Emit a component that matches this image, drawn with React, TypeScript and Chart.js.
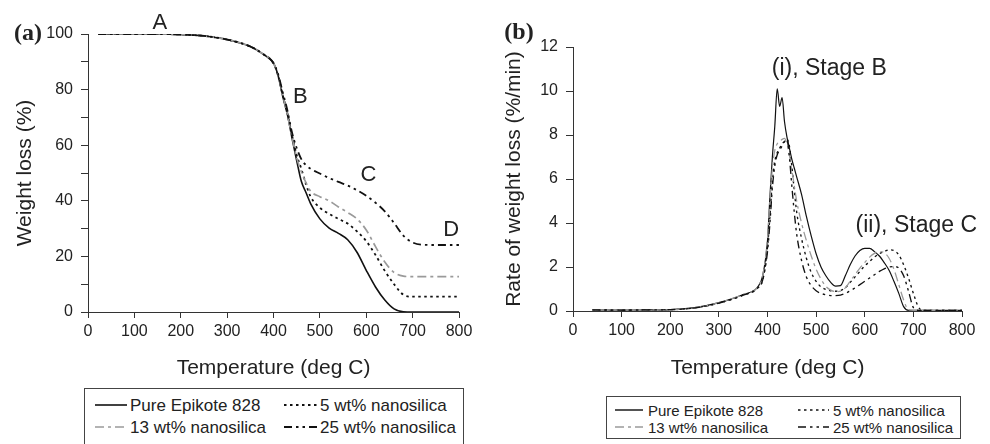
import React, { useEffect, useRef } from 'react';
import { Chart, registerables } from 'chart.js';

Chart.register(...registerables);

const FONT = '"Liberation Sans", Arial, Helvetica, sans-serif';
const SERIF = '"Liberation Serif", "Times New Roman", serif';
const INK = '#222';
const AXIS = '#333';

// ---------- Data: panel (a) TGA ----------
const tgaTemps = [22, 50, 100, 150, 200, 250, 300, 350, 380, 400, 410, 420, 430, 440, 450, 460, 470, 480, 500, 520, 540, 560, 580, 600, 620, 640, 660, 680, 700, 720, 750, 800];
const tgaPure = [100, 100, 100, 100, 99.8, 99.3, 98.0, 95.5, 92.5, 89.5, 85.0, 77.5, 71.0, 62.5, 54.5, 47.0, 43.0, 39.0, 33.5, 30.2, 28.3, 26.0, 21.5, 15.0, 9.0, 4.3, 1.1, 0.1, 0, 0, 0, 0];
const tga5 = [100, 100, 100, 100, 99.8, 99.3, 98.0, 95.5, 92.5, 89.5, 85.0, 78.0, 71.5, 63.5, 56.5, 51.5, 46.0, 41.5, 37.5, 35.3, 33.5, 31.8, 29.0, 25.5, 20.5, 14.8, 10.0, 6.2, 5.5, 5.5, 5.5, 5.5];
const tga13 = [100, 100, 100, 100, 99.8, 99.3, 98.0, 95.5, 92.5, 89.5, 85.0, 78.0, 71.0, 63.0, 55.5, 50.5, 46.5, 43.5, 41.5, 40.0, 37.8, 35.8, 33.5, 29.5, 23.5, 18.0, 14.2, 12.9, 12.7, 12.7, 12.7, 12.7];
const tga25 = [100, 100, 100, 100, 99.8, 99.3, 98.0, 95.5, 92.5, 89.5, 85.5, 79.0, 72.5, 64.5, 59.0, 55.0, 52.8, 51.5, 49.8, 48.2, 46.8, 45.5, 43.8, 41.8, 39.3, 36.2, 32.0, 27.5, 25.0, 24.2, 24.1, 24.1];

// ---------- Data: panel (b) DTG ----------
const dtgTemps = [40, 100, 150, 200, 250, 300, 350, 380, 390, 400, 405, 410, 415, 420, 425, 430, 435, 440, 445, 450, 455, 460, 470, 480, 490, 500, 510, 520, 530, 540, 550, 560, 570, 580, 590, 600, 610, 620, 630, 640, 650, 660, 670, 680, 690, 700, 710, 720, 750, 800];
const dtgPure = [0.05, 0.04, 0.05, 0.06, 0.15, 0.38, 0.75, 1.1, 1.6, 3.2, 5.2, 7.0, 8.4, 10.1, 9.3, 9.7, 8.6, 7.9, 7.4, 6.9, 6.5, 6.1, 5.3, 4.3, 3.4, 2.6, 2.0, 1.6, 1.3, 1.13, 1.15, 1.6, 2.1, 2.5, 2.75, 2.85, 2.85, 2.7, 2.5, 2.2, 1.85, 1.35, 0.8, 0.2, 0.03, 0.03, 0.03, 0.03, 0.03, 0.03];
const dtg5 = [0.05, 0.04, 0.05, 0.06, 0.14, 0.36, 0.72, 1.05, 1.4, 2.9, 4.3, 5.9, 6.8, 7.2, 7.4, 7.6, 7.7, 7.8, 7.5, 6.6, 5.5, 4.5, 3.3, 2.4, 1.75, 1.35, 1.1, 0.98, 0.92, 0.9, 0.93, 1.05, 1.3, 1.55, 1.8, 2.05, 2.25, 2.45, 2.6, 2.7, 2.78, 2.75, 2.55, 2.1, 1.5, 0.8, 0.2, 0.03, 0.03, 0.03];
const dtg13 = [0.05, 0.04, 0.05, 0.06, 0.15, 0.38, 0.75, 1.1, 1.6, 3.3, 5.0, 6.5, 7.3, 7.6, 7.7, 7.8, 7.85, 7.6, 7.1, 6.4, 5.7, 5.0, 4.0, 3.2, 2.5, 1.9, 1.45, 1.12, 0.95, 0.88, 0.9, 1.05, 1.35, 1.65, 1.95, 2.2, 2.45, 2.62, 2.7, 2.65, 2.4, 1.9, 1.2, 0.5, 0.05, 0.03, 0.03, 0.03, 0.03, 0.03];
const dtg25 = [0.05, 0.04, 0.05, 0.06, 0.14, 0.36, 0.72, 1.05, 1.4, 2.7, 4.0, 5.6, 6.6, 7.1, 7.3, 7.5, 7.7, 7.8, 7.0, 5.7, 4.5, 3.5, 2.3, 1.55, 1.15, 0.92, 0.8, 0.74, 0.7, 0.7, 0.72, 0.8, 0.92, 1.05, 1.2, 1.35, 1.5, 1.65, 1.8, 1.92, 2.0, 2.02, 1.95, 1.6, 0.9, 0.15, 0.03, 0.03, 0.03, 0.03];

// ---------- Labels ----------
const seriesNames = ['Pure Epikote 828', '5 wt% nanosilica', '13 wt% nanosilica', '25 wt% nanosilica'];
const xTitle = 'Temperature (deg C)';
const yTitleA = 'Weight loss (%)';
const yTitleB = 'Rate of weight loss (%/min)';
const annotTextA = ['A', 'B', 'C', 'D'];
const annotXA = [155, 458, 605, 783];
const annotYA = [104, 77.5, 49.3, 29.5];
const annotTextB = ['(i), Stage B', '(ii), Stage C'];
const annotXB = [527, 706];
const annotYB = [11.0, 3.9];

// ---------- Styles ----------
const STYLES = [
  { color: '#111', dash: [] as number[], width: 1.6 },
  { color: '#111', dash: [2.5, 3.5], width: 1.8 },
  { color: '#9a9a9a', dash: [9, 4, 3, 4], width: 1.7 },
  { color: '#111', dash: [8, 4, 2.5, 4, 2.5, 4], width: 1.8 },
];

const labelPlugin = {
  id: 'panelLabels',
  afterDraw(chart: any, _args: any, opts: any) {
    const { ctx, scales } = chart;
    ctx.save();
    ctx.fillStyle = INK;
    ctx.textAlign = 'center';
    ctx.textBaseline = 'middle';
    (opts.items || []).forEach((it: any) => {
      ctx.font = it.font;
      const px = it.data ? scales.x.getPixelForValue(it.x) : it.x;
      const py = it.data ? scales.y.getPixelForValue(it.y) : it.y;
      ctx.fillText(it.text, px, py);
    });
    ctx.restore();
  },
};

function buildDatasets(temps: number[], series: number[][], widthScale: number) {
  // draw order: 25%, 13%, 5%, pure (pure on top)
  const order = [3, 2, 1, 0];
  return order.map((i) => ({
    label: seriesNames[i],
    data: temps.map((t, j) => ({ x: t, y: series[i][j] })),
    borderColor: STYLES[i].color,
    borderDash: STYLES[i].dash,
    borderWidth: STYLES[i].width * widthScale,
    pointRadius: 0,
    fill: false,
    cubicInterpolationMode: 'monotone' as const,
  }));
}

function axisCommon(min: number, max: number, step: number, title: string, isY: boolean, fixedSize: number, titlePad: any, cb?: (v: number) => string) {
  return {
    type: 'linear' as const,
    min,
    max,
    ticks: {
      stepSize: step,
      autoSkip: false,
      maxRotation: 0,
      color: INK,
      font: { family: FONT, size: 16 },
      padding: isY ? 8 : 4,
      callback: cb || ((v: any) => String(v)),
    },
    grid: { drawOnChartArea: false, tickLength: isY ? 7 : 6, color: AXIS, lineWidth: 1 },
    border: { color: AXIS, width: 1 },
    title: { display: true, text: title, color: INK, font: { family: FONT, size: 21 }, padding: titlePad },
    afterFit: (s: any) => {
      if (isY) s.width = fixedSize;
      else s.height = fixedSize;
    },
  };
}

function configA(): any {
  return {
    type: 'line',
    data: { datasets: buildDatasets(tgaTemps, [tgaPure, tga5, tga13, tga25], 1) },
    plugins: [labelPlugin],
    options: {
      responsive: false,
      animation: false,
      events: [],
      layout: { padding: { left: 0, top: 34, right: 31, bottom: 444 - 312 - 69 } },
      plugins: {
        legend: { display: false },
        tooltip: { enabled: false },
        panelLabels: {
          items: [
            { text: '(a)', x: 28, y: 34, font: `bold 24px ${SERIF}` },
            ...annotTextA.map((t, i) => ({ text: t, x: annotXA[i], y: annotYA[i], data: true, font: `22px ${FONT}` })),
          ],
        },
      },
      scales: {
        x: axisCommon(0, 800, 100, xTitle, false, 69, { top: 0, bottom: 0 }),
        y: axisCommon(0, 100, 10, yTitleA, true, 88, { top: 13, bottom: 0 }, (v: number) => (v % 20 === 0 ? String(v) : '')),
      },
    },
  };
}

function configB(): any {
  return {
    type: 'line',
    data: { datasets: buildDatasets(dtgTemps, [dtgPure, dtg5, dtg13, dtg25], 0.75) },
    plugins: [labelPlugin],
    options: {
      responsive: false,
      animation: false,
      events: [],
      layout: { padding: { left: 0, top: 47, right: 28, bottom: 444 - 311 - 70 } },
      plugins: {
        legend: { display: false },
        tooltip: { enabled: false },
        panelLabels: {
          items: [
            { text: '(b)', x: 29, y: 33, font: `bold 24px ${SERIF}` },
            ...annotTextB.map((t, i) => ({ text: t, x: annotXB[i], y: annotYB[i], data: true, font: `23px ${FONT}` })),
          ],
        },
      },
      scales: {
        x: axisCommon(0, 800, 100, xTitle, false, 70, { top: 0, bottom: 0 }),
        y: axisCommon(0, 12, 2, yTitleB, true, 83, { top: 12, bottom: 0 }),
      },
    },
  };
}

function ChartCanvas({ left, width, height, make }: { left: number; width: number; height: number; make: () => any }) {
  const ref = useRef<HTMLCanvasElement>(null);
  useEffect(() => {
    const chart = new Chart(ref.current as HTMLCanvasElement, make());
    return () => chart.destroy();
  }, []);
  return (
    <canvas
      ref={ref}
      width={width}
      height={height}
      style={{ position: 'absolute', left, top: 0, width, height, display: 'block' }}
    />
  );
}

type LegendLayout = {
  left: number; top: number; width: number; height: number;
  rowY: number[]; sampleX: number[]; sampleW: number[]; textX: number[]; fontSize: number; widthScale: number;
};

const LEGEND_A: LegendLayout = { left: 84, top: 388, width: 380, height: 72, rowY: [16, 38], sampleX: [10, 199], sampleW: [32, 33], textX: [45, 235], fontSize: 17, widthScale: 1 };
const LEGEND_B: LegendLayout = { left: 606, top: 396, width: 355, height: 43, rowY: [13, 30], sampleX: [8, 191], sampleW: [28, 31], textX: [41, 226], fontSize: 15, widthScale: 0.9 };

function Legend({ L }: { L: LegendLayout }) {
  const grid = [[0, 1], [2, 3]];
  const items: React.ReactNode[] = [];
  grid.forEach((row, r) => {
    row.forEach((si, c) => {
      const st = STYLES[si];
      items.push(
        <svg key={`s${r}${c}`} width={L.sampleW[c]} height={6}
          style={{ position: 'absolute', left: L.sampleX[c], top: L.rowY[r] - 3 }}>
          <line x1={0} y1={3} x2={L.sampleW[c]} y2={3} stroke={st.color}
            strokeWidth={st.width * L.widthScale} strokeDasharray={st.dash.length ? st.dash.join(' ') : undefined} />
        </svg>
      );
      items.push(
        <span key={`t${r}${c}`} style={{
          position: 'absolute', left: L.textX[c], top: L.rowY[r], transform: 'translateY(-50%)',
          fontFamily: FONT, fontSize: L.fontSize, lineHeight: 1, whiteSpace: 'nowrap', color: INK,
        }}>{seriesNames[si]}</span>
      );
    });
  });
  return (
    <div style={{
      position: 'absolute', left: L.left, top: L.top, width: L.width, height: L.height,
      border: '1px solid #444', boxSizing: 'border-box', background: '#fff',
    }}>
      {items}
    </div>
  );
}

export default function App() {
  return (
    <div style={{ position: 'absolute', left: 0, top: 0, width: 990, height: 444, overflow: 'hidden', background: '#fff' }}>
      <ChartCanvas left={0} width={490} height={444} make={configA} />
      <ChartCanvas left={490} width={500} height={444} make={configB} />
      <Legend L={LEGEND_A} />
      <Legend L={LEGEND_B} />
    </div>
  );
}
